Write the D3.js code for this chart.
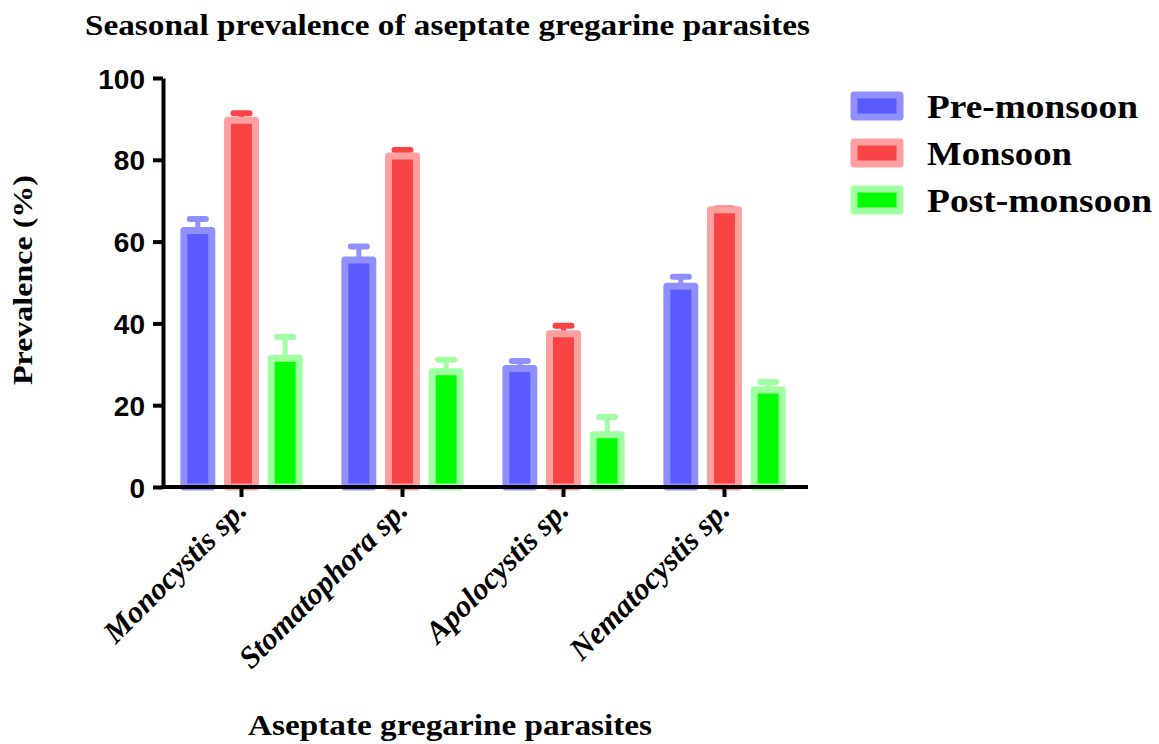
<!DOCTYPE html>
<html>
<head>
<meta charset="utf-8">
<script src="https://cdn.jsdelivr.net/npm/d3@7"></script>
<style>
  html, body { margin: 0; padding: 0; background: #fff; }
  svg { display: block; }
</style>
</head>
<body>
<svg id="chart" width="1159" height="744"></svg>
<script>
// ---- Data ----
const categories = ["Monocystis sp.", "Stomatophora sp.", "Apolocystis sp.", "Nematocystis sp."];
const seriesNames = ["Pre-monsoon", "Monsoon", "Post-monsoon"];
const preMonsoon  = [62.7, 55.5, 29.0, 49.1];
const monsoon     = [89.7, 80.9, 37.5, 67.8];
const postMonsoon = [31.5, 28.2, 12.8, 23.7];
const preErr  = [2.8, 3.3, 1.8, 2.3];
const monErr  = [1.7, 1.5, 1.9, 0.3];
const postErr = [5.2, 2.9, 4.3, 2.0];
const yTicks = [0, 20, 40, 60, 80, 100];

const fills   = ["#5a5aff", "#f84444", "#00ff00"];
const strokes = ["#8f8fff", "#ffa0a0", "#a0ffa0"];
const errColors = ["#8f8fff", "#f84444", "#a0ffa0"];

const values = [preMonsoon, monsoon, postMonsoon];
const errors = [preErr, monErr, postErr];

const serif = "'Liberation Serif', 'Times New Roman', Times, serif";
const sans = "'Liberation Sans', Arial, Helvetica, sans-serif";

const svg = d3.select("#chart");

const y = d3.scaleLinear().domain([0, 100]).range([487, 78]);
const x = d3.scaleBand().domain(categories).range([161, 805]).padding(0);
const xs = d3.scaleBand().domain(seriesNames).range([-65.5, 65.5]).paddingInner(0.36).paddingOuter(0.18);

const data = [];
categories.forEach((c, i) => {
  seriesNames.forEach((s, j) => {
    data.push({cat: c, ser: s, j: j, v: values[j][i], e: errors[j][i]});
  });
});

// error bars (behind bars)
const eg = svg.append("g");
data.forEach(d => {
  const cx = x(d.cat) + x.bandwidth() / 2 + xs(d.ser) + xs.bandwidth() / 2;
  eg.append("line")
    .attr("x1", cx).attr("x2", cx)
    .attr("y1", y(d.v)).attr("y2", y(d.v + d.e))
    .attr("stroke", errColors[d.j]).attr("stroke-width", 5);
  eg.append("line")
    .attr("x1", cx - 8).attr("x2", cx + 8)
    .attr("y1", y(d.v + d.e)).attr("y2", y(d.v + d.e))
    .attr("stroke", errColors[d.j]).attr("stroke-width", 6)
    .attr("stroke-linecap", "round");
});

// bars
svg.append("g").selectAll("rect").data(data).enter().append("rect")
  .attr("x", d => x(d.cat) + x.bandwidth() / 2 + xs(d.ser))
  .attr("width", xs.bandwidth())
  .attr("y", d => y(d.v))
  .attr("height", d => y(0) - y(d.v))
  .attr("fill", d => fills[d.j])
  .attr("stroke", d => strokes[d.j])
  .attr("stroke-width", 7)
  .attr("stroke-linejoin", "round");

// y axis
const yAxis = svg.append("g")
  .attr("transform", "translate(163,0)")
  .call(d3.axisLeft(y).tickValues(yTicks).tickSize(10).tickPadding(8).tickSizeOuter(0));
yAxis.select(".domain").attr("stroke", "#000").attr("stroke-width", 4);
yAxis.selectAll(".tick line").attr("stroke", "#000").attr("stroke-width", 4);
yAxis.selectAll(".tick text")
  .attr("font-family", sans)
  .attr("font-weight", "bold").attr("font-size", 28).attr("fill", "#000")
  .attr("dy", "0.36em");

// x axis
const xAxis = svg.append("g")
  .attr("transform", "translate(0,487)")
  .call(d3.axisBottom(x).tickSize(10).tickSizeOuter(0));
xAxis.select(".domain").attr("stroke", "#000").attr("stroke-width", 4)
  .attr("d", "M161,0H808");
xAxis.selectAll(".tick line").attr("stroke", "#000").attr("stroke-width", 4);
xAxis.selectAll(".tick text")
  .attr("font-family", serif)
  .attr("font-weight", "bold").attr("font-style", "italic")
  .attr("font-size", 31).attr("fill", "#000")
  .attr("text-anchor", "end")
  .attr("dy", null).attr("y", 0)
  .attr("transform", "translate(7,25) rotate(-45)");

// titles
svg.append("text")
  .attr("x", 85).attr("y", 35)
  .attr("font-family", serif)
  .attr("font-weight", "bold").attr("font-size", 29)
  .attr("textLength", 725).attr("lengthAdjust", "spacingAndGlyphs")
  .text("Seasonal prevalence of aseptate gregarine parasites");

svg.append("text")
  .attr("x", 248).attr("y", 735)
  .attr("font-family", serif)
  .attr("font-weight", "bold").attr("font-size", 29)
  .attr("textLength", 404).attr("lengthAdjust", "spacingAndGlyphs")
  .text("Aseptate gregarine parasites");

svg.append("text")
  .attr("transform", "translate(32,385) rotate(-90)")
  .attr("text-anchor", "start")
  .attr("font-family", serif)
  .attr("font-weight", "bold").attr("font-size", 28)
  .attr("textLength", 210).attr("lengthAdjust", "spacingAndGlyphs")
  .text("Prevalence (%)");

// legend
const legendWidths = [211, 145, 225];
const lg = svg.append("g");
seriesNames.forEach((s, j) => {
  const yy = 95 + j * 47;
  lg.append("rect")
    .attr("x", 854).attr("y", yy)
    .attr("width", 46).attr("height", 22)
    .attr("fill", fills[j]).attr("stroke", strokes[j])
    .attr("stroke-width", 7).attr("stroke-linejoin", "round");
  lg.append("text")
    .attr("x", 927).attr("y", yy + 23)
    .attr("font-family", serif)
    .attr("font-weight", "bold").attr("font-size", 34)
    .attr("textLength", legendWidths[j]).attr("lengthAdjust", "spacingAndGlyphs")
    .text(s);
});
</script>
</body>
</html>
